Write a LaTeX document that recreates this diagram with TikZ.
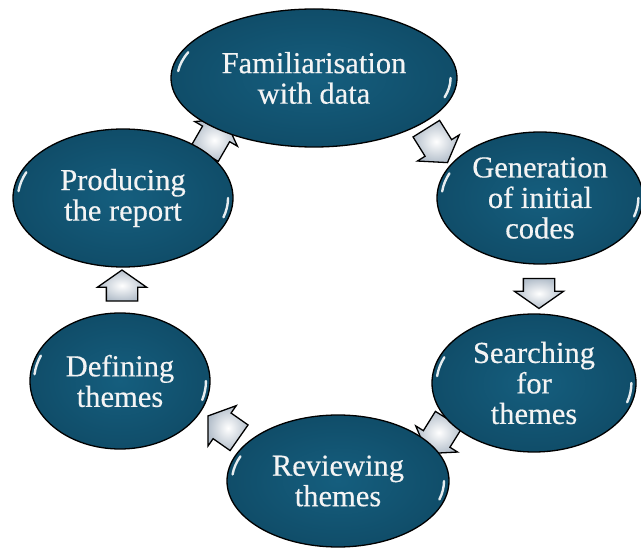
\documentclass[tikz,border=0pt]{standalone}
\usepackage{fontspec}
\setmainfont{Liberation Serif}[FakeBold=0.4]
\usetikzlibrary{shapes.geometric,shapes.arrows}
\definecolor{bub}{HTML}{155E7E}
\definecolor{bubrim}{HTML}{104D69}
\definecolor{arrgray}{HTML}{B4BFCB}
\definecolor{txt}{HTML}{F4F4F4}
\tikzset{
  bubble/.style={ellipse, draw=black, line width=1.3pt, inner sep=0pt,
    inner color=bub, outer color=bubrim, text=txt, align=center,
    font=\fontsize{30.5}{30.5}\selectfont},
  blockarrow/.style={single arrow, draw=black, line width=1.3pt,
    inner color=white, outer color=arrgray, inner xsep=0pt, inner ysep=15pt,
    single arrow head extend=9pt, single arrow tip angle=110},
  gl/.style={white, line width=2.4pt, line cap=round, opacity=0.9}
}
\newcommand\glossy[3]{%
  \draw[gl, shift={(#1.center)}] ({0.955*#2*cos(186)},{0.955*#3*sin(186)})
     arc[start angle=186, end angle=203, x radius={0.955*#2}, y radius={0.955*#3}];
  \draw[gl, shift={(#1.center)}] ({0.955*#2*cos(0)},{0.955*#3*sin(0)})
     arc[start angle=0, end angle=17, x radius={0.955*#2}, y radius={0.955*#3}];
}
\begin{document}
\begin{tikzpicture}[x=1pt,y=-1pt]
\useasboundingbox (0,0) rectangle (641,548);
% arrows (behind the ellipses)
\node[blockarrow, minimum height=40pt, rotate=-58] (a1) at (434,141) {};
\node[blockarrow, minimum height=30pt, rotate=-90] (a2) at (539,288) {};
\node[blockarrow, minimum height=40pt, rotate=-122] (a3) at (441,432) {};
\node[blockarrow, minimum height=38pt, rotate=145] (a4) at (228,430) {};
\node[blockarrow, minimum height=31pt, rotate=90] (a5) at (122,291) {};
\node[blockarrow, minimum height=40pt, rotate=60] (a6) at (212,141) {};
% ellipses
\node[bubble, minimum width=286pt, minimum height=138pt] (fam) at (314,78) {Familiarisation\\with data};
\node[bubble, minimum width=206pt, minimum height=132pt] (gen) at (540,198) {Generation\\of initial\\codes};
\node[bubble, minimum width=204pt, minimum height=138pt] (sea) at (534,383) {Searching\\for\\themes};
\node[bubble, minimum width=222pt, minimum height=132pt] (rev) at (338,481) {Reviewing\\themes};
\node[bubble, minimum width=180pt, minimum height=136pt] (def) at (120,381) {Defining\\themes};
\node[bubble, minimum width=220pt, minimum height=138pt] (pro) at (123,198) {Producing\\the report};
\glossy{fam}{143}{69}
\glossy{gen}{103}{66}
\glossy{sea}{102}{69}
\glossy{rev}{111}{66}
\glossy{def}{90}{68}
\glossy{pro}{110}{69}
\end{tikzpicture}
\end{document}
